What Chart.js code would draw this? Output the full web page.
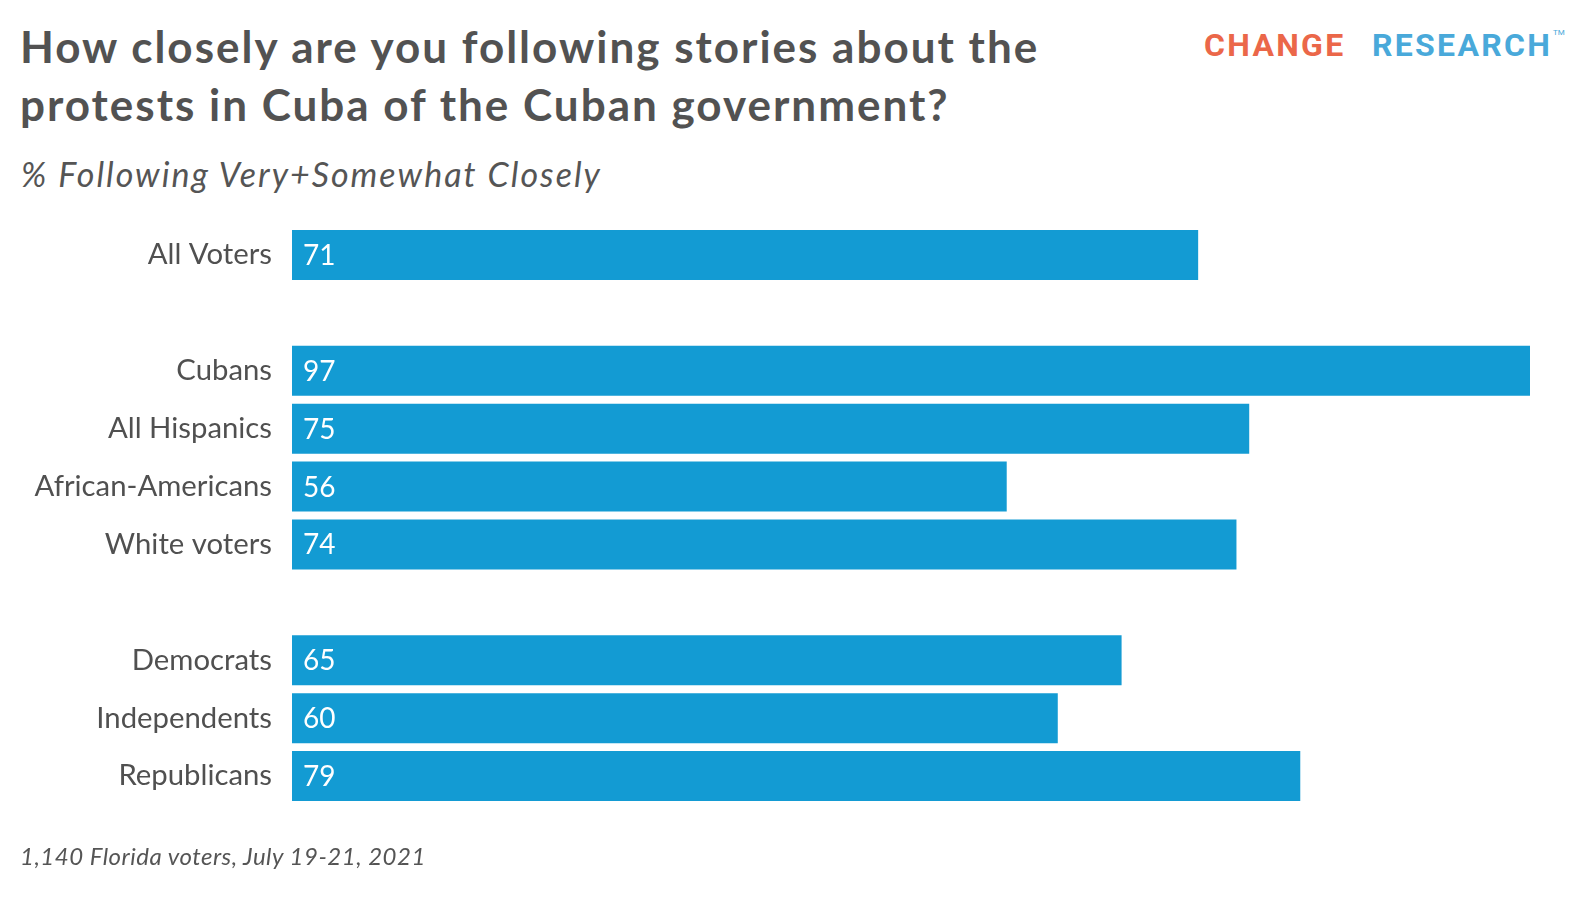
<!DOCTYPE html>
<html>
<head>
<meta charset="utf-8">
<script src="https://cdn.jsdelivr.net/npm/chart.js@4.4.0/dist/chart.umd.min.js"></script>
<style>
  html,body{margin:0;padding:0;background:#fff;}
  body{width:1590px;height:908px;position:relative;overflow:hidden;font-family:Lato,"Open Sans",sans-serif;color:#505050;}
  #title{position:absolute;left:20px;top:17px;font-size:44px;font-weight:bold;line-height:58px;letter-spacing:2px;color:#525252;white-space:nowrap;}
  #sub{position:absolute;left:21px;top:154px;font-size:34px;line-height:1.2;font-style:italic;letter-spacing:2px;color:#555;white-space:nowrap;}
  #foot{position:absolute;left:20px;top:842px;font-size:24px;line-height:1.2;font-style:italic;letter-spacing:0.5px;color:#555;white-space:nowrap;}
  .logo{position:absolute;top:26px;font-family:Roboto,sans-serif;font-weight:bold;font-size:32px;line-height:1.2;letter-spacing:2.3px;white-space:nowrap;}
  #logoA{left:1204px;color:#EB6749;}
  #logoB{left:1372px;color:#49A9DA;}
  #tm{position:absolute;left:1553px;top:28px;font-family:Roboto,sans-serif;font-size:8px;color:#49A9DA;}
  #wrap{position:absolute;left:0;top:0;width:1590px;height:908px;}
</style>
</head>
<body>
<div id="title">How closely are you following stories about the<br>protests in Cuba of the Cuban government?</div>
<div id="sub">% Following Very+Somewhat Closely</div>
<div class="logo" id="logoA">CHANGE</div><div class="logo" id="logoB">RESEARCH</div><div id="tm">TM</div>
<div id="wrap"><canvas id="c"></canvas></div>
<div id="foot">1,140 Florida voters, July 19-21, 2021</div>
<script>
// blank labels make the gaps between groups
const groups = ['All Voters','','Cubans','All Hispanics','African-Americans','White voters','','Democrats','Independents','Republicans'];
const pctFollowing = [71,null,97,75,56,74,null,65,60,79];

// white value inside each bar, at its left end
const valueLabels = {
  id:'valueLabels',
  afterDatasetsDraw(chart){
    const ctx=chart.ctx;
    const meta=chart.getDatasetMeta(0);
    ctx.save();
    ctx.fillStyle='#fff';
    ctx.font='28px Lato, "Open Sans", sans-serif';
    ctx.textAlign='left'; ctx.textBaseline='alphabetic';
    meta.data.forEach((bar,i)=>{
      if(pctFollowing[i]==null) return;
      ctx.fillText(String(pctFollowing[i]), bar.base+11, bar.y+10);
    });
    ctx.restore();
  }
};

new Chart(document.getElementById('c'),{
  type:'bar',
  data:{labels:groups,datasets:[{data:pctFollowing,backgroundColor:'#139BD3',borderWidth:0,barPercentage:0.864,categoryPercentage:1}]},
  options:{
    indexAxis:'y',
    responsive:true,maintainAspectRatio:false,animation:false,
    layout:{padding:{top:226,bottom:103,right:60,left:0}},
    plugins:{legend:{display:false},tooltip:{enabled:false}},
    scales:{
      x:{display:false,min:0,max:97},
      y:{
        grid:{display:false},
        border:{display:false},
        ticks:{color:'#505050',font:{family:'Lato, "Open Sans", sans-serif',size:29.3},padding:12},
        afterFit(s){ s.width=292; }
      }
    }
  },
  plugins:[valueLabels]
});
</script>
</body>
</html>
